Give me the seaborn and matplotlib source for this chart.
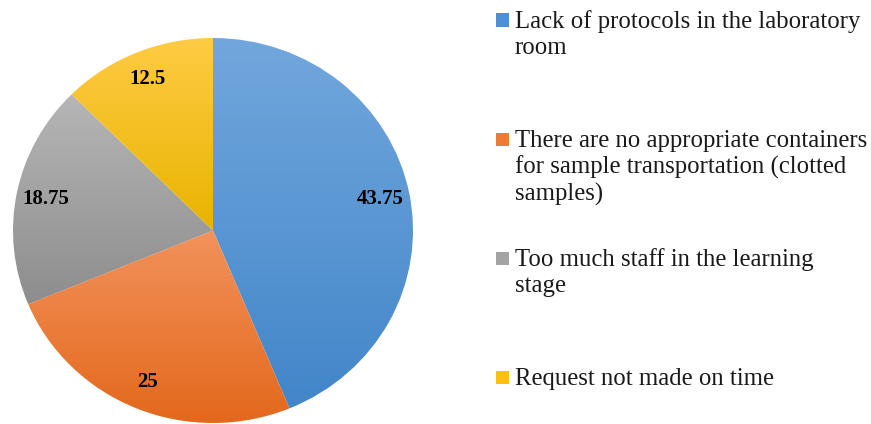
import numpy as np
import matplotlib
matplotlib.use('Agg')
import matplotlib.pyplot as plt
import matplotlib.patches as mpatches
from matplotlib.colors import to_rgb
import seaborn as sns

categories = [
    "Lack of protocols in the laboratory\nroom",
    "There are no appropriate containers\nfor sample transportation (clotted\nsamples)",
    "Too much staff in the learning\nstage",
    "Request not made on time",
]
values = [43.75, 25, 18.75, 12.5]
# gradient (top, bottom) per slice, like the Excel fill
top_colors = ["#72A7DD", "#F2925C", "#B6B6B6", "#FFCB45"]
bottom_colors = ["#4286C9", "#E3671A", "#8D8D8D", "#E8B400"]
legend_colors = ["#4F8FD4", "#EE7A33", "#A3A3A3", "#FDBF12"]

sns.set_theme(style="white")
plt.rcParams['font.family'] = ['Liberation Serif', 'DejaVu Serif']

fig = plt.figure(figsize=(8.71, 4.24), dpi=100)
W, H = 871, 424
ax = fig.add_axes([13 / W, 1 / H, 400 / W, 385 / H])

wedges, texts, autotexts = ax.pie(
    values, startangle=90, counterclock=False,
    autopct=lambda p: f"{p:g}", pctdistance=0.85,
    wedgeprops=dict(facecolor="none", edgecolor="none"),
    textprops=dict(fontsize=15, fontweight="bold", color="black"),
)
ax.set_aspect('auto')

# gradient fill clipped to each wedge
for w, c0, c1 in zip(wedges, top_colors, bottom_colors):
    verts = w.get_path().vertices
    x0, y0 = verts.min(axis=0)
    x1, y1 = verts.max(axis=0)
    t = np.linspace(0, 1, 256)[:, None]
    grad = (1 - t) * np.array(to_rgb(c0)) + t * np.array(to_rgb(c1))
    img = ax.imshow(grad[:, None, :].repeat(2, axis=1), extent=[x0, x1, y0, y1],
                    origin="upper", aspect="auto", zorder=0.5,
                    interpolation="bilinear")
    img.set_clip_path(w)
ax.set_xlim(-1, 1)
ax.set_ylim(-1, 1)
ax.axis('off')
for t in autotexts:
    t.set_zorder(3)

# legend, entries evenly spaced like the original
tops = [10.5, 129.5, 248.5, 367.5]
for lab, col, ty in zip(categories, legend_colors, tops):
    fig.text(515 / W, 1 - ty / H, lab, fontsize=17.8, va="top", ha="left",
             linespacing=1.22, color="#1a1a1a")
    fig.patches.append(mpatches.Rectangle((496 / W, 1 - (ty + 16) / H), 13 / W, 13 / H,
                                          transform=fig.transFigure, facecolor=col,
                                          edgecolor="none"))

fig.savefig("out.png", dpi=100)
